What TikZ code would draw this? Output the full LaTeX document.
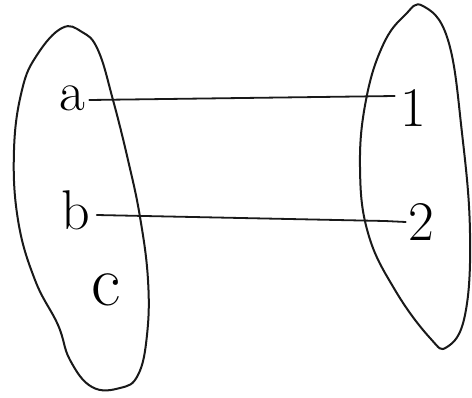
\documentclass[tikz,border=0pt]{standalone}
\usepackage{tikz}
\begin{document}
\begin{tikzpicture}[x=0.5pt,y=-0.5pt,
  blob/.style={draw=black!90, line width=1pt, line join=round},
  lbl/.style={font=\fontsize{28}{28}\selectfont, inner sep=1pt},
  link/.style={draw=black!90, line width=0.9pt, line cap=round}]
\useasboundingbox[fill=white] (0,0) rectangle (472,397);
% left set
\draw[blob] plot[smooth cycle, tension=0.7] coordinates {
  (62,28) (82,32) (98,50) (113,100) (128,160) (140,217) (148,280)
  (147,335) (138,375) (120,388) (92,387) (70,360) (58,325)
  (35,280) (18,220) (14,150) (22,90) (37,55)};
% right set
\draw[blob] plot[smooth cycle, tension=0.7] coordinates {
  (423,6) (448,40) (462,133) (470,233) (465,315) (447,347) (430,338)
  (395,290) (368,233) (360,167) (366,100) (383,45) (405,15)};
\node[lbl] (a) at (72,98) {a};
\node[lbl] (b) at (76,210) {b};
\node[lbl, font=\fontsize{36}{36}\selectfont] (c) at (106,290) {c};
\node[lbl] (one) at (413,108) {1};
\node[lbl] (two) at (421,222) {2};
\draw[link] ([shift={(2,2)}]a.east) -- ([shift={(-3,-12)}]one.west);
\draw[link] ([shift={(4,5)}]b.east) -- (385,221) -- (two.west);
\end{tikzpicture}
\end{document}
